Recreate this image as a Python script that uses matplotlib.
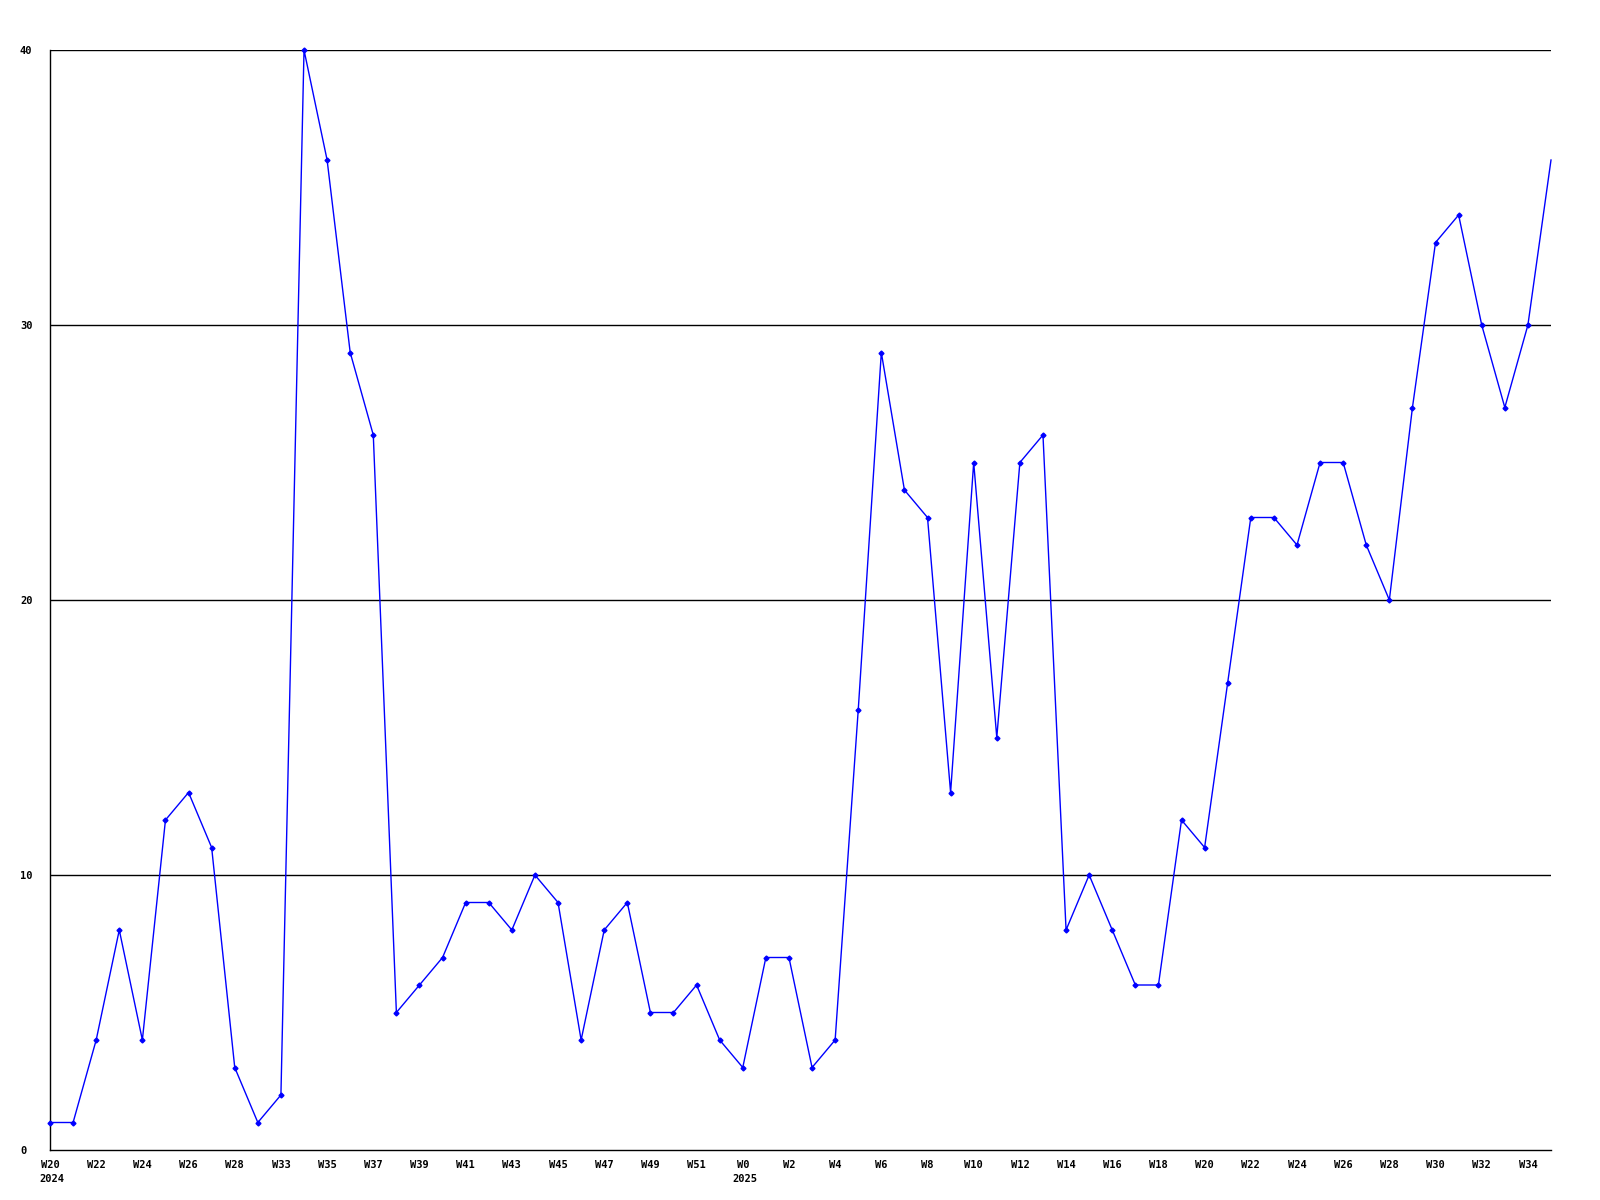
import matplotlib.pyplot as plt

# weekly counts, 2024 W20 .. 2025 W35
weeks = ["W20", "W21", "W22", "W23", "W24", "W25", "W26", "W27", "W28", "W30",
         "W33", "W34", "W35", "W36", "W37", "W38", "W39", "W40", "W41", "W42",
         "W43", "W44", "W45", "W46", "W47", "W48", "W49", "W50", "W51", "W52",
         "W0", "W1", "W2", "W3", "W4", "W5", "W6", "W7", "W8", "W9",
         "W10", "W11", "W12", "W13", "W14", "W15", "W16", "W17", "W18", "W19",
         "W20", "W21", "W22", "W23", "W24", "W25", "W26", "W27", "W28", "W29",
         "W30", "W31", "W32", "W33", "W34", "W35"]
years = {0: "2024", 30: "2025"}
counts = [1, 1, 4, 8, 4, 12, 13, 11, 3, 1,
          2, 40, 36, 29, 26, 5, 6, 7, 9, 9,
          8, 10, 9, 4, 8, 9, 5, 5, 6, 4,
          3, 7, 7, 3, 4, 16, 29, 24, 23, 13,
          25, 15, 25, 26, 8, 10, 8, 6, 6, 12,
          11, 17, 23, 23, 22, 25, 25, 22, 20, 27,
          33, 34, 30, 27, 30, 36]

font = dict(fontfamily="DejaVu Sans Mono", fontweight="bold", fontsize=7.5)

fig = plt.figure(figsize=(16, 12), dpi=100)
ax = fig.add_axes([50 / 1600, 50 / 1200, 1501 / 1600, 1100 / 1200])

x = list(range(len(counts)))
ax.plot(x, counts, color="#0000ff", linewidth=1, marker="D", markersize=2.5,
        markevery=list(range(len(counts) - 1)), clip_on=False, zorder=3)

ax.set_xlim(0, len(counts) - 1)
ax.set_ylim(0, 40)

for y in [10, 20, 30, 40]:
    ax.axhline(y, color="black", linewidth=1, zorder=1)

ticks = x[::2][:33]
ax.set_xticks(ticks)
ax.set_xticklabels([weeks[i] for i in ticks], va="top", **font)
ax.set_yticks([0, 10, 20, 30, 40])
ax.set_yticklabels(["0", "10", "20", "30", "40"], ha="left", **font)
ax.tick_params(axis="x", length=0, pad=7)
ax.tick_params(axis="y", length=0, pad=21.6)

# year under the first week of each year, left aligned with the week label
for i, yr in years.items():
    ax.annotate(yr, xy=(i, 0), xycoords=("data", "axes fraction"),
                xytext=(-7.5, -17.5), textcoords="offset points",
                ha="left", va="top", annotation_clip=False, **font)

ax.spines["top"].set_visible(False)
ax.spines["right"].set_visible(False)
ax.spines["left"].set_linewidth(1)
ax.spines["bottom"].set_linewidth(1)

plt.savefig("out.png", dpi=100)
